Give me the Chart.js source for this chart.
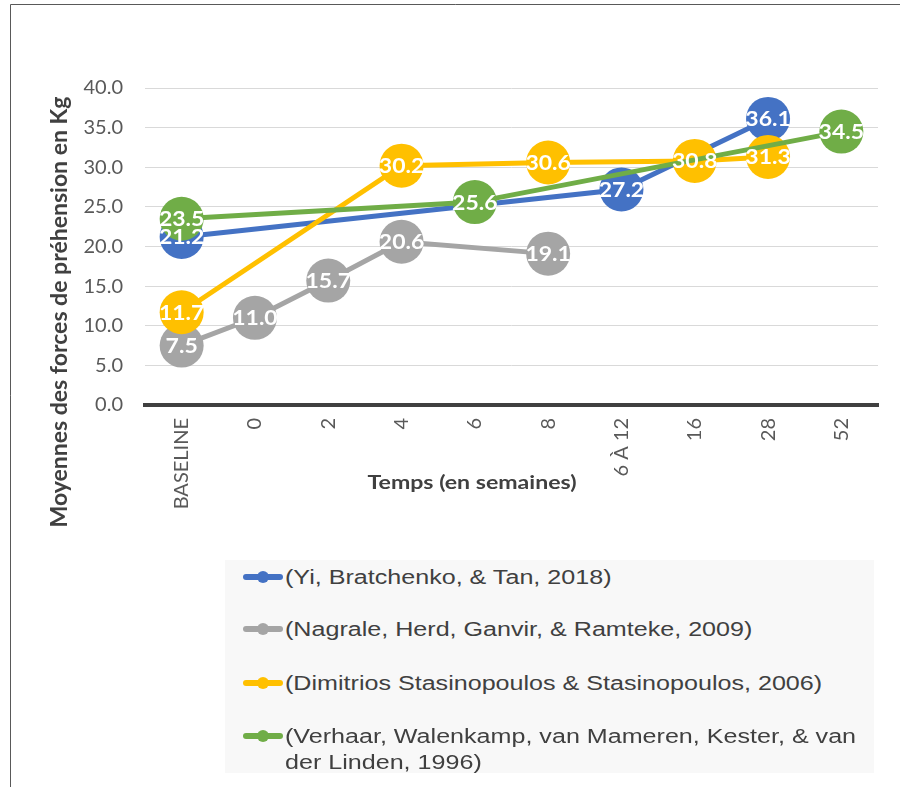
<!DOCTYPE html>
<html>
<head>
<meta charset="utf-8">
<script src="https://cdn.jsdelivr.net/npm/chart.js@4/dist/chart.umd.min.js"></script>
<style>
  html, body { margin: 0; padding: 0; background: #ffffff; }
  #wrap { position: relative; width: 900px; height: 787px; overflow: hidden; }
  #c { position: absolute; left: 0; top: 0; }
  #legend { position: absolute; left: 225px; top: 560px; width: 649px; height: 213px; background: #F8F8F8;
            font-family: "Liberation Sans", Arial, sans-serif; font-size: 20px; color: #404040; }
  .item { position: absolute; left: 18px; }
  .mark { position: absolute; left: 0; width: 40px; height: 6px; border-radius: 3px; }
  .dot { position: absolute; left: 14px; top: -3px; width: 12px; height: 12px; border-radius: 6px; }
  .txt { position: absolute; left: 42px; width: 466px; line-height: 26px; white-space: normal;
         transform: scaleX(1.255); transform-origin: 0 0; }
</style>
</head>
<body>
<div id="wrap">
  <canvas id="c" width="900" height="787"></canvas>
  <div id="legend"></div>
</div>
<script>
const categories = ['BASELINE', '0', '2', '4', '6', '8', '6 À 12', '16', '28', '52'];
const seriesNames = [
  '(Yi, Bratchenko, & Tan, 2018)',
  '(Nagrale, Herd, Ganvir, & Ramteke, 2009)',
  '(Dimitrios Stasinopoulos & Stasinopoulos, 2006)',
  '(Verhaar, Walenkamp, van Mameren, Kester, & van der Linden, 1996)'
];
const yiValues       = [21.2, null, null, null, null, null, 27.2, null, 36.1, null];
const nagraleValues  = [7.5, 11.0, 15.7, 20.6, null, 19.1, null, null, null, null];
const stasValues     = [11.7, null, null, 30.2, null, 30.6, null, 30.8, 31.3, null];
const verhaarValues  = [23.5, null, null, null, 25.6, null, null, null, null, 34.5];
const yTicks = [0, 5, 10, 15, 20, 25, 30, 35, 40];
const xTitle = 'Temps (en semaines)';
const yTitle = 'Moyennes des forces de préhension en Kg';

const colors = ['#4472C4', '#A5A5A5', '#FFC000', '#70AD47'];
const seriesValues = [yiValues, nagraleValues, stasValues, verhaarValues];

const datasets = seriesValues.map((vals, i) => ({
  label: seriesNames[i],
  data: vals,
  borderColor: colors[i],
  backgroundColor: colors[i],
  pointBackgroundColor: colors[i],
  pointBorderWidth: 0,
  pointRadius: 22,
  pointHoverRadius: 22,
  borderWidth: 5,
  spanGaps: true,
  tension: 0,
  clip: false,
  order: 4 - i
}));

const frameAndTitles = {
  id: 'frameAndTitles',
  beforeDraw(chart) {
    const ctx = chart.ctx;
    ctx.save();
    ctx.fillStyle = '#ffffff';
    ctx.fillRect(0, 0, chart.width, chart.height);
    ctx.strokeStyle = '#595959';
    ctx.lineWidth = 1;
    ctx.beginPath();
    ctx.moveTo(10.5, 787);
    ctx.lineTo(10.5, 4.5);
    ctx.lineTo(900, 4.5);
    ctx.stroke();
    ctx.restore();
  },
  afterDraw(chart) {
    const ctx = chart.ctx;
    ctx.save();
    ctx.fillStyle = '#404040';
    ctx.textAlign = 'center';
    ctx.textBaseline = 'middle';
    ctx.font = 'bold 19px Lato';
    const w = ctx.measureText(xTitle).width;
    ctx.save();
    ctx.translate(472, 483);
    ctx.scale(209 / w, 1);
    ctx.fillText(xTitle, 0, 0);
    ctx.restore();
    ctx.translate(60, 312);
    ctx.rotate(-Math.PI / 2);
    ctx.font = 'bold 19px Lato';
    const wy = ctx.measureText(yTitle).width;
    ctx.scale(431 / wy, 1.15);
    ctx.fillText(yTitle, 0, 0);
    ctx.restore();
  }
};

const dataLabels = {
  id: 'dataLabels',
  afterDatasetsDraw(chart) {
    const ctx = chart.ctx;
    ctx.save();
    ctx.fillStyle = '#ffffff';
    ctx.font = 'bold 20px Lato';
    ctx.textAlign = 'center';
    ctx.textBaseline = 'middle';
    chart.data.datasets.forEach((ds, di) => {
      const meta = chart.getDatasetMeta(di);
      meta.data.forEach((pt, j) => {
        const v = ds.data[j];
        if (v === null || v === undefined) return;
        ctx.save();
        ctx.translate(pt.x, pt.y + 1);
        ctx.scale(1.15, 1);
        ctx.fillText(v.toFixed(1), 0, 0);
        ctx.restore();
      });
    });
    ctx.restore();
  }
};

new Chart(document.getElementById('c'), {
  type: 'line',
  data: { labels: categories, datasets },
  options: {
    responsive: false,
    animation: false,
    events: [],
    layout: { padding: { left: 0, right: 20, top: 88, bottom: 0 } },
    plugins: { legend: { display: false }, tooltip: { enabled: false } },
    scales: {
      x: {
        offset: true,
        grid: { display: false, drawTicks: false },
        border: { display: true, color: '#404040', width: 4 },
        ticks: {
          color: '#595959', font: { family: 'Lato', size: 20 },
          minRotation: 90, maxRotation: 90, padding: 13, autoSkip: false
        },
        afterFit(scale) { scale.height = 382; }
      },
      y: {
        min: 0, max: 40,
        afterBuildTicks(scale) { scale.ticks = yTicks.map(v => ({ value: v })); },
        grid: { color: '#D9D9D9', lineWidth: 1, drawTicks: false },
        border: { display: false },
        ticks: {
          color: '#595959', font: { family: 'Lato', size: 20 }, padding: 22,
          callback: v => Number(v).toFixed(1)
        },
        afterFit(scale) { scale.width = 145; }
      }
    }
  },
  plugins: [frameAndTitles, dataLabels]
});

const legend = document.getElementById('legend');
const rowTops = [17, 69, 123, 176];
seriesNames.forEach((name, i) => {
  const item = document.createElement('div');
  item.className = 'item';
  item.style.top = rowTops[i] + 'px';
  const mark = document.createElement('div');
  mark.className = 'mark';
  mark.style.background = colors[i];
  mark.style.top = '-3px';
  const dot = document.createElement('div');
  dot.className = 'dot';
  dot.style.background = colors[i];
  mark.appendChild(dot);
  const txt = document.createElement('div');
  txt.className = 'txt';
  txt.style.top = '-13px';
  txt.textContent = name;
  item.appendChild(mark);
  item.appendChild(txt);
  legend.appendChild(item);
});
</script>
</body>
</html>
